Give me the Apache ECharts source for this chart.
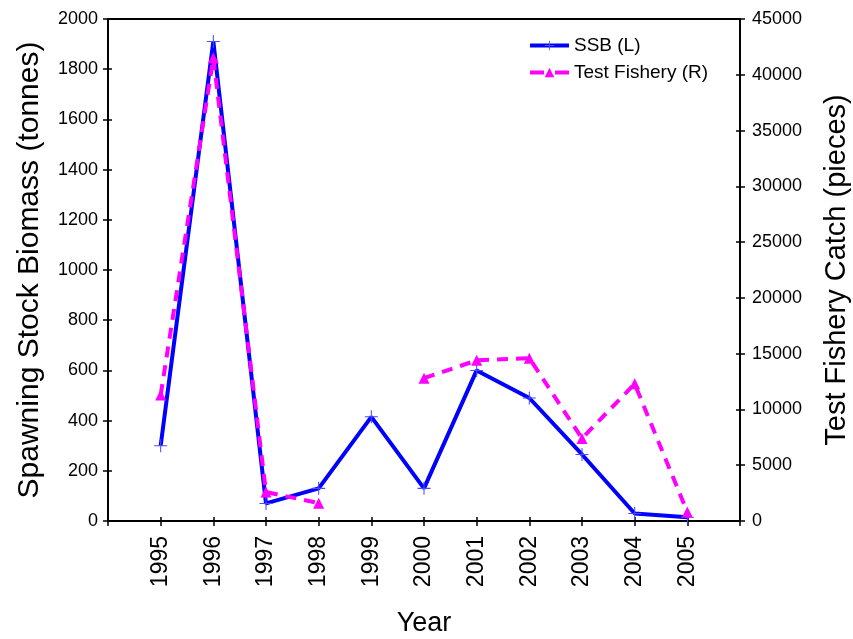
<!DOCTYPE html>
<html>
<head>
<meta charset="utf-8">
<script src="https://cdn.jsdelivr.net/npm/echarts@6/dist/echarts.min.js"></script>
<style>
  html, body { margin: 0; padding: 0; background: #fff; }
  #chart { width: 853px; height: 639px; }
</style>
</head>
<body>
<div id="chart"></div>
<script>
var years = [1995, 1996, 1997, 1998, 1999, 2000, 2001, 2002, 2003, 2004, 2005];
var ssb = [300, 1910, 70, 130, 415, 130, 600, 490, 265, 30, 15];
var testFishery = [11300, 41500, 2600, 1600, null, 12800, 14400, 14600, 7400, 12300, 800];

var FONT = "'Liberation Sans', Arial, sans-serif";
var crossSymbol = 'path://M4.6,0H5.4V4.6H10V5.4H5.4V10H4.6V5.4H0V4.6H4.6Z';

function pairs(values) {
  return years.map(function (y, i) { return [y, values[i]]; });
}

function plain(v) { return String(v); }

// second copy of an axis, only to draw the inner half of the "+" ticks
function innerTicks(base) {
  return Object.assign({}, base, {
    name: '',
    axisLine: { show: false },
    axisLabel: { show: false },
    axisTick: { show: true, inside: true, length: 4, lineStyle: { color: '#000', width: 1.5 } },
    splitLine: { show: false }
  });
}

var xBase = {
  type: 'value', min: 1994, max: 2006, interval: 1, position: 'bottom',
  splitLine: { show: false }
};
var yLeftBase = { type: 'value', min: 0, max: 2000, interval: 200, position: 'left', splitLine: { show: false } };
var yRightBase = { type: 'value', min: 0, max: 45000, interval: 5000, position: 'right', splitLine: { show: false } };

var chart = echarts.init(document.getElementById('chart'), null, { renderer: 'canvas' });
chart.setOption({
  animation: false,
  backgroundColor: '#fff',
  textStyle: { fontFamily: FONT, color: '#000' },
  grid: {
    left: 108, right: 113, top: 19, bottom: 118,
    outerBoundsMode: 'none', containLabel: false,
    show: true, borderColor: '#000', borderWidth: 2, backgroundColor: 'transparent'
  },
  legend: {
    orient: 'vertical',
    left: 528, top: 36, padding: 0,
    itemWidth: 39, itemHeight: 12, itemGap: 8,
    lineStyle: { width: 4 },
    textStyle: { fontFamily: FONT, fontSize: 19, color: '#000', lineHeight: 19 },
    data: [
      { name: 'SSB (L)' },
      { name: 'Test Fishery (R)', lineStyle: { width: 4, type: [14, 11] } }
    ]
  },
  xAxis: [
    Object.assign({}, xBase, {
      name: 'Year', nameLocation: 'middle', nameGap: 89,
      nameTextStyle: { fontFamily: FONT, fontSize: 27, color: '#000' },
      axisLine: { show: true, lineStyle: { color: '#000', width: 2 } },
      axisTick: { show: true, length: 5, lineStyle: { color: '#000', width: 1.5 } },
      axisLabel: {
        rotate: 90, margin: 15, fontFamily: FONT, fontSize: 23, color: '#000',
        formatter: function (v) { return years.indexOf(v) >= 0 ? String(v) : ''; }
      }
    }),
    innerTicks(xBase)
  ],
  yAxis: [
    Object.assign({}, yLeftBase, {
      name: 'Spawning Stock Biomass (tonnes)', nameLocation: 'middle', nameGap: 63,
      nameTextStyle: { fontFamily: FONT, fontSize: 30, color: '#000' },
      axisLine: { show: true, lineStyle: { color: '#000', width: 2 } },
      axisTick: { show: true, length: 5, lineStyle: { color: '#000', width: 1.5 } },
      axisLabel: { margin: 10, fontFamily: FONT, fontSize: 18, color: '#000', formatter: plain }
    }),
    Object.assign({}, yRightBase, {
      name: 'Test Fishery Catch (pieces)', nameLocation: 'middle', nameGap: 82,
      nameTextStyle: { fontFamily: FONT, fontSize: 29, color: '#000' },
      axisLine: { show: true, lineStyle: { color: '#000', width: 2 } },
      axisTick: { show: true, length: 5, lineStyle: { color: '#000', width: 1.5 } },
      axisLabel: { margin: 12, fontFamily: FONT, fontSize: 18, color: '#000', formatter: plain }
    }),
    innerTicks(yLeftBase),
    innerTicks(yRightBase)
  ],
  series: [
    {
      name: 'SSB (L)', type: 'line', xAxisIndex: 0, yAxisIndex: 0,
      data: pairs(ssb),
      symbol: crossSymbol, symbolSize: 13, showSymbol: true,
      lineStyle: { color: '#0000ff', width: 4 },
      itemStyle: { color: '#4a4aff' }
    },
    {
      name: 'Test Fishery (R)', type: 'line', xAxisIndex: 0, yAxisIndex: 1,
      data: pairs(testFishery),
      connectNulls: false,
      symbol: 'triangle', symbolSize: 11, showSymbol: true,
      lineStyle: { color: '#ff00ff', width: 4, type: [11, 8] },
      itemStyle: { color: '#ff00ff' }
    }
  ]
});
</script>
</body>
</html>
